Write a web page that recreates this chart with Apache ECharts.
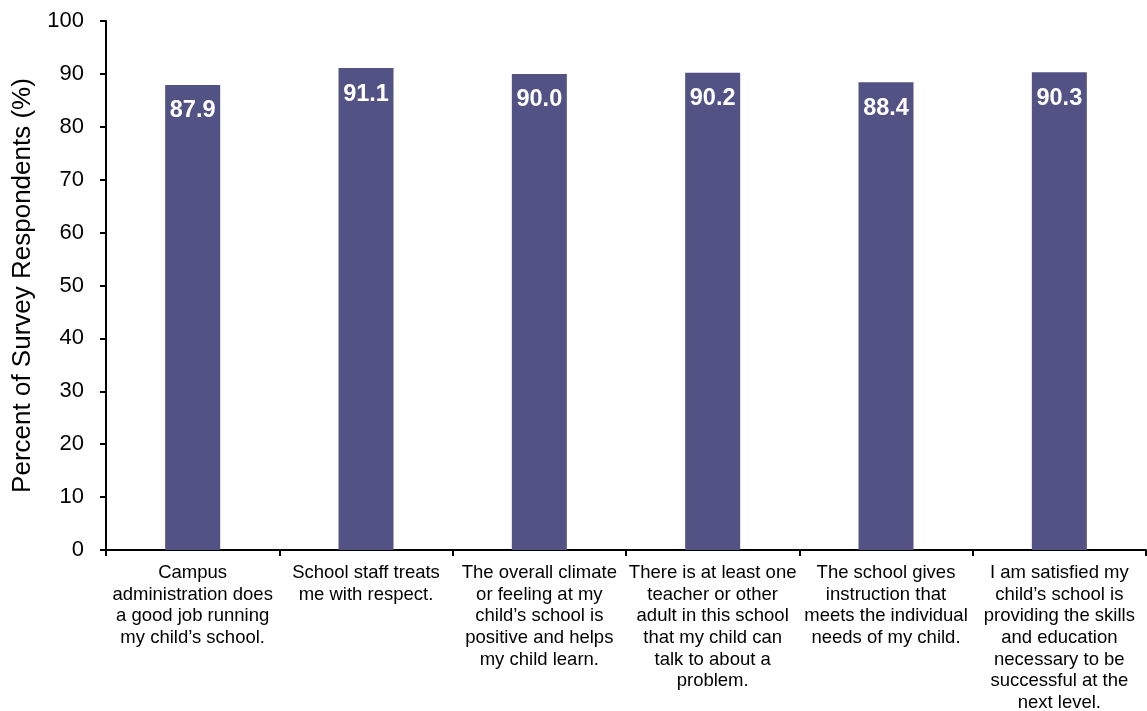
<!DOCTYPE html>
<html><head><meta charset="utf-8">
<script src="https://cdn.jsdelivr.net/npm/echarts@6/dist/echarts.min.js"></script>
<style>html,body{margin:0;padding:0;background:#fff}#c{width:1147px;height:711px}</style>
</head><body><div id="c"></div>
<script>
const categories = [
  "Campus\nadministration does\na good job running\nmy child\u2019s school.",
  "School staff treats\nme with respect.",
  "The overall climate\nor feeling at my\nchild\u2019s school is\npositive and helps\nmy child learn.",
  "There is at least one\nteacher or other\nadult in this school\nthat my child can\ntalk to about a\nproblem.",
  "The school gives\ninstruction that\nmeets the individual\nneeds of my child.",
  "I am satisfied my\nchild\u2019s school is\nproviding the skills\nand education\nnecessary to be\nsuccessful at the\nnext level."
];
const values = [87.9, 91.1, 90.0, 90.2, 88.4, 90.3];
const yTicks = [0, 10, 20, 30, 40, 50, 60, 70, 80, 90, 100];
const yName = "Percent of Survey Respondents (%)";

const chart = echarts.init(document.getElementById('c'));
const font = "Liberation Sans, Arial, sans-serif";
chart.setOption({
  animation: false,
  grid: {left: 106, right: 1, top: 21, bottom: 161, containLabel: false, outerBoundsMode: 'none'},
  xAxis: {
    type: 'category', data: categories,
    axisLine: {lineStyle: {color: '#000', width: 2}},
    axisTick: {show: true, length: 6, lineStyle: {color: '#000', width: 2}, alignWithLabel: false},
    axisLabel: {interval: 0, color: '#000', fontSize: 18.5, fontFamily: font, lineHeight: 21.7, margin: 12, align: 'center'}
  },
  yAxis: {
    type: 'value', min: yTicks[0], max: yTicks[yTicks.length-1], interval: 10,
    name: yName, nameLocation: 'middle', nameGap: 70, nameRotate: 90,
    nameTextStyle: {color: '#000', fontSize: 26, fontFamily: font},
    splitLine: {show: false},
    axisLine: {show: true, lineStyle: {color: '#000', width: 2}},
    axisTick: {show: true, length: 6, lineStyle: {color: '#000', width: 2}},
    axisLabel: {color: '#000', fontSize: 22, fontFamily: font, margin: 22}
  },
  series: [{
    type: 'bar', data: values, barWidth: 55,
    itemStyle: {color: '#525284'},
    label: {show: true, position: 'insideTop', distance: 14, color: '#fff', fontSize: 23.5, fontWeight: 'bold', fontFamily: font,
      formatter: p => p.value.toFixed(1)}
  }]
});
</script></body></html>
